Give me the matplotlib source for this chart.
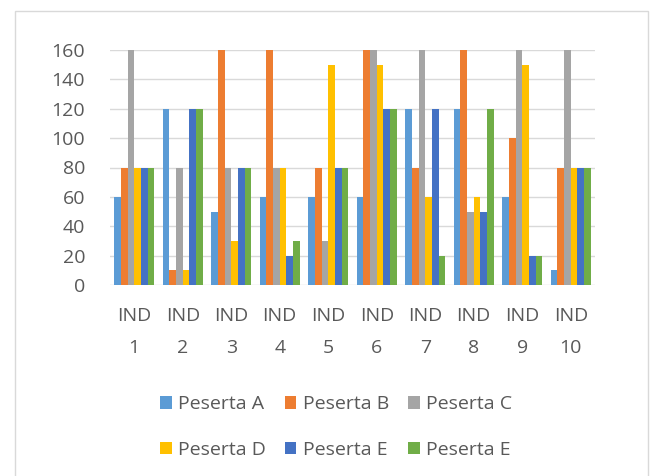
import numpy as np
import matplotlib.pyplot as plt
from matplotlib.patches import Rectangle

plt.rcParams['font.family'] = ['Open Sans', 'DejaVu Sans']

categories = ['IND\n1', 'IND\n2', 'IND\n3', 'IND\n4', 'IND\n5',
              'IND\n6', 'IND\n7', 'IND\n8', 'IND\n9', 'IND\n10']
peserta_a = [60, 120, 50, 60, 60, 60, 120, 120, 60, 10]
peserta_b = [80, 10, 160, 160, 80, 160, 80, 160, 100, 80]
peserta_c = [160, 80, 80, 80, 30, 160, 160, 50, 160, 160]
peserta_d = [80, 10, 30, 80, 150, 150, 60, 60, 150, 80]
peserta_e = [80, 120, 80, 20, 80, 120, 120, 50, 20, 80]
peserta_e2 = [80, 120, 80, 30, 80, 120, 20, 120, 20, 80]

series = [
    ('Peserta A', peserta_a, '#5B9BD5'),
    ('Peserta B', peserta_b, '#ED7D31'),
    ('Peserta C', peserta_c, '#A5A5A5'),
    ('Peserta D', peserta_d, '#FFC000'),
    ('Peserta E', peserta_e, '#4472C4'),
    ('Peserta E', peserta_e2, '#70AD47'),
]

text_color = '#595959'

fig = plt.figure(figsize=(6.54, 4.76), dpi=100)
fig.patches.append(Rectangle((15 / 654, -0.01), 633 / 654, 1 - 11 / 476 + 0.01,
                             transform=fig.transFigure, fill=False,
                             edgecolor='#D9D9D9', linewidth=1.0))

ax = fig.add_axes([110 / 654, 1 - 285 / 476, 485 / 654, 235 / 476])

x = np.arange(len(categories))
width = 0.138
bars = []
for i, (label, values, color) in enumerate(series):
    offset = (i - 2.5) * width
    bars.append(ax.bar(x + offset, values, width, color=color, label=label, zorder=3))

ax.set_xlim(-0.5, len(categories) - 0.5)
ax.set_ylim(0, 160)
ax.set_yticks(range(0, 161, 20))
ax.set_xticks(x)
ax.set_xticklabels(categories, linespacing=1.95)
ax.tick_params(axis='both', length=0, labelsize=14, colors=text_color)
ax.tick_params(axis='x', pad=16)
ax.tick_params(axis='y', pad=18)
ax.grid(axis='y', color='#D9D9D9', linewidth=1.0, zorder=0)
for spine in ax.spines.values():
    spine.set_visible(False)

# legend fills column by column, so reorder to read row by row
order = [0, 3, 1, 4, 2, 5]
fig.legend([bars[k] for k in order], [series[k][0] for k in order],
           loc='center', bbox_to_anchor=(0.514, 1 - 427 / 476), ncol=3,
           frameon=False, fontsize=14, labelcolor=text_color,
           handlelength=0.6, handleheight=0.6, handletextpad=0.35,
           columnspacing=0.95, labelspacing=1.4)

fig.savefig('out.png', dpi=100)
